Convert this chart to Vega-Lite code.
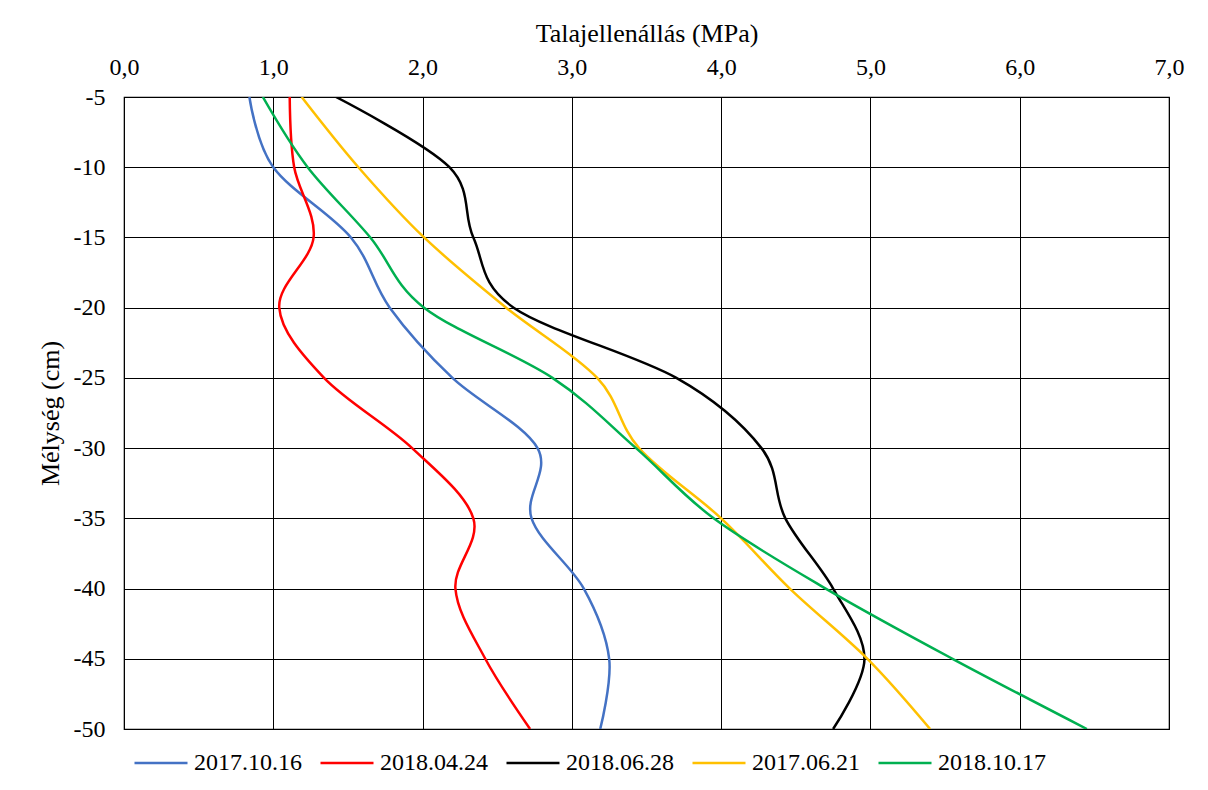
{
  "$schema": "https://vega.github.io/schema/vega-lite/v6.json",
  "autosize": {"type": "none"},
  "padding": {"left": 124, "top": 97, "right": 39, "bottom": 61},
  "width": 1045,
  "height": 632,
  "background": "white",
  "config": {
    "font": "Liberation Serif, Times New Roman, serif",
    "view": {"stroke": "#000000", "strokeWidth": 1.2},
    "axis": {"labelFont": "Liberation Serif, Times New Roman, serif", "titleFont": "Liberation Serif, Times New Roman, serif", "labelColor": "#000", "titleColor": "#000", "titleFontWeight": "normal"},
    "legend": {"labelFont": "Liberation Serif, Times New Roman, serif"}
  },
  "data": {
    "values": [
      {"date": "2017.10.16", "depth": -5, "v": 0.84},
      {"date": "2017.10.16", "depth": -10, "v": 1.00},
      {"date": "2017.10.16", "depth": -15, "v": 1.52},
      {"date": "2017.10.16", "depth": -20, "v": 1.78},
      {"date": "2017.10.16", "depth": -25, "v": 2.20},
      {"date": "2017.10.16", "depth": -30, "v": 2.77},
      {"date": "2017.10.16", "depth": -35, "v": 2.73},
      {"date": "2017.10.16", "depth": -40, "v": 3.08},
      {"date": "2017.10.16", "depth": -45, "v": 3.25},
      {"date": "2017.10.16", "depth": -50, "v": 3.19},
      {"date": "2018.04.24", "depth": -5, "v": 1.11},
      {"date": "2018.04.24", "depth": -10, "v": 1.14},
      {"date": "2018.04.24", "depth": -15, "v": 1.27},
      {"date": "2018.04.24", "depth": -20, "v": 1.04},
      {"date": "2018.04.24", "depth": -25, "v": 1.34},
      {"date": "2018.04.24", "depth": -30, "v": 1.93},
      {"date": "2018.04.24", "depth": -35, "v": 2.34},
      {"date": "2018.04.24", "depth": -40, "v": 2.22},
      {"date": "2018.04.24", "depth": -45, "v": 2.42},
      {"date": "2018.04.24", "depth": -50, "v": 2.72},
      {"date": "2018.06.28", "depth": -5, "v": 1.42},
      {"date": "2018.06.28", "depth": -10, "v": 2.18},
      {"date": "2018.06.28", "depth": -15, "v": 2.34},
      {"date": "2018.06.28", "depth": -20, "v": 2.61},
      {"date": "2018.06.28", "depth": -25, "v": 3.70},
      {"date": "2018.06.28", "depth": -30, "v": 4.27},
      {"date": "2018.06.28", "depth": -35, "v": 4.43},
      {"date": "2018.06.28", "depth": -40, "v": 4.75},
      {"date": "2018.06.28", "depth": -45, "v": 4.96},
      {"date": "2018.06.28", "depth": -50, "v": 4.75},
      {"date": "2017.06.21", "depth": -5, "v": 1.19},
      {"date": "2017.06.21", "depth": -10, "v": 1.57},
      {"date": "2017.06.21", "depth": -15, "v": 2.01},
      {"date": "2017.06.21", "depth": -20, "v": 2.56},
      {"date": "2017.06.21", "depth": -25, "v": 3.17},
      {"date": "2017.06.21", "depth": -30, "v": 3.45},
      {"date": "2017.06.21", "depth": -35, "v": 4.00},
      {"date": "2017.06.21", "depth": -40, "v": 4.46},
      {"date": "2017.06.21", "depth": -45, "v": 4.98},
      {"date": "2017.06.21", "depth": -50, "v": 5.40},
      {"date": "2018.10.17", "depth": -5, "v": 0.93},
      {"date": "2018.10.17", "depth": -10, "v": 1.23},
      {"date": "2018.10.17", "depth": -15, "v": 1.65},
      {"date": "2018.10.17", "depth": -20, "v": 2.01},
      {"date": "2018.10.17", "depth": -25, "v": 2.87},
      {"date": "2018.10.17", "depth": -30, "v": 3.43},
      {"date": "2018.10.17", "depth": -35, "v": 3.95},
      {"date": "2018.10.17", "depth": -40, "v": 4.70},
      {"date": "2018.10.17", "depth": -45, "v": 5.55},
      {"date": "2018.10.17", "depth": -50, "v": 6.45}
    ]
  },
  "mark": {"type": "line", "interpolate": "cardinal", "strokeWidth": 2.5, "clip": true},
  "encoding": {
    "x": {
      "field": "v", "type": "quantitative",
      "scale": {"domain": [0, 7], "nice": false, "zero": false},
      "axis": {
        "orient": "top",
        "title": "Talajellenállás (MPa)",
        "titleFontSize": 26,
        "titlePadding": 9,
        "labelFontSize": 24,
        "labelPadding": 18,
        "values": [0, 1, 2, 3, 4, 5, 6, 7],
        "labelExpr": "replace(format(datum.value, '.1f'), '.', ',')",
        "ticks": false,
        "domain": false,
        "grid": true,
        "gridColor": "#000000",
        "gridOpacity": 1,
        "gridWidth": 1,
        "labelFlush": false
      }
    },
    "y": {
      "field": "depth", "type": "quantitative",
      "scale": {"domain": [-50, -5], "nice": false, "zero": false},
      "axis": {
        "title": "Mélység (cm)",
        "titleFontSize": 26,
        "titlePadding": 10,
        "labelFontSize": 24,
        "labelPadding": 19,
        "values": [-5, -10, -15, -20, -25, -30, -35, -40, -45, -50],
        "labelExpr": "'-' + abs(datum.value)",
        "ticks": false,
        "domain": false,
        "grid": true,
        "gridColor": "#000000",
        "gridOpacity": 1,
        "gridWidth": 1,
        "labelFlush": false
      }
    },
    "color": {
      "field": "date", "type": "nominal",
      "scale": {
        "domain": ["2017.10.16", "2018.04.24", "2018.06.28", "2017.06.21", "2018.10.17"],
        "range": ["#4472C4", "#FF0000", "#000000", "#FFC000", "#00B050"]
      },
      "legend": {
        "title": null,
        "orient": "none",
        "direction": "horizontal",
        "legendX": 9,
        "legendY": 638,
        "symbolType": "stroke",
        "symbolSize": 2809,
        "symbolStrokeWidth": 2.5,
        "labelFont": "Liberation Serif, Times New Roman, serif",
        "labelFontSize": 24,
        "labelColor": "#000",
        "labelOffset": 5,
        "columnPadding": 13,
        "labelLimit": 300
      }
    },
    "order": {"field": "depth", "type": "quantitative", "sort": "descending"}
  }
}
